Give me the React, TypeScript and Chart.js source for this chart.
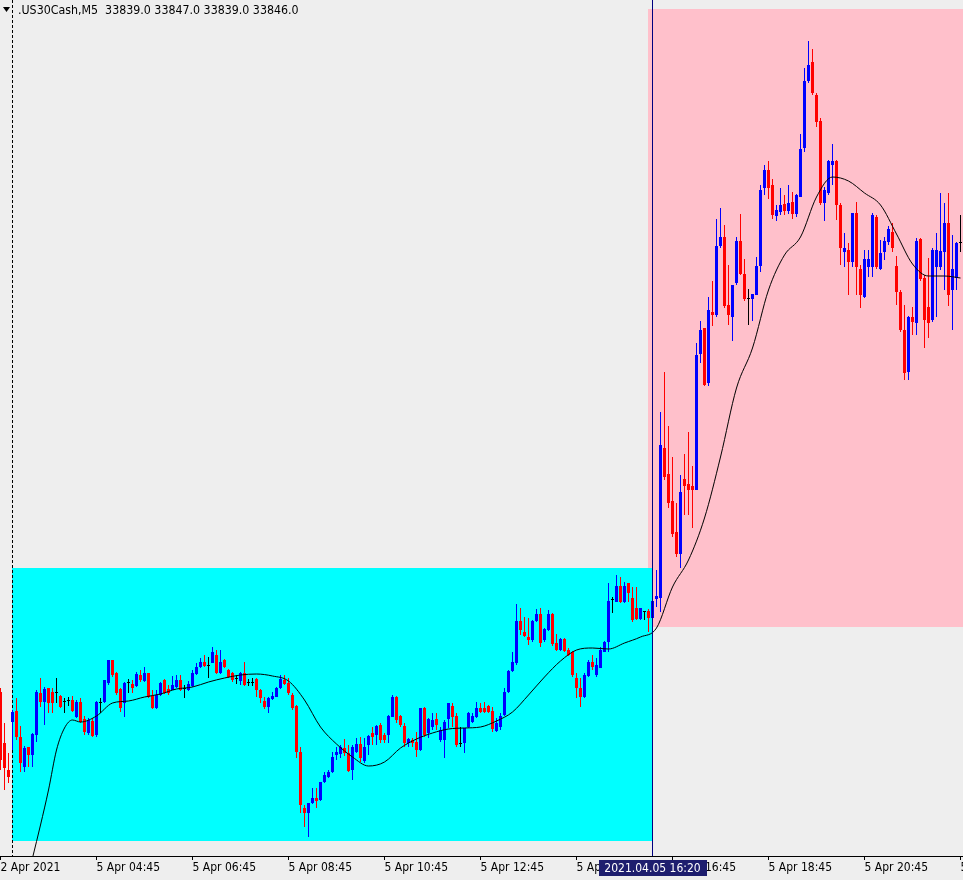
import React, { useEffect, useRef } from "react";
import { Chart, registerables } from "chart.js";

Chart.register(...registerables);

// ---------------- data ----------------
const symbolCaption = ".US30Cash,M5";
const lastBarOHLC = ["33839.0", "33847.0", "33839.0", "33846.0"];

const tickBarIndices = [0, 24, 48, 72, 96, 120, 144, 168, 192, 216, 240];
const tickLabels = [
  "2 Apr 2021", "5 Apr 04:45", "5 Apr 06:45", "5 Apr 08:45", "5 Apr 10:45",
  "5 Apr 12:45", "5 Apr 14:45", "5 Apr 16:45", "5 Apr 18:45", "5 Apr 20:45", "5 Apr 22:45",
];

const opens = [
  33308, 33257, 33230, 33278, 33289, 33263, 33233, 33253, 33245, 33265,
  33307, 33298, 33312, 33308, 33307, 33304, 33298, 33299, 33300, 33283,
  33298, 33281, 33267, 33279, 33265, 33297, 33298, 33317, 33340, 33327,
  33311, 33297, 33317, 33316, 33314, 33325, 33319, 33327, 33304, 33292,
  33305, 33320, 33311, 33310, 33313, 33320, 33311, 33310, 33314, 33326,
  33333, 33338, 33334, 33337, 33345, 33327, 33340, 33330, 33327, 33321,
  33319, 33327, 33317, 33317, 33321, 33310, 33299, 33293, 33301, 33303,
  33312, 33320, 33317, 33305, 33294, 33248, 33192, 33187, 33197, 33202,
  33200, 33218, 33223, 33228, 33245, 33246, 33252, 33247, 33230, 33248,
  33256, 33239, 33255, 33267, 33265, 33275, 33265, 33265, 33283, 33303,
  33284, 33274, 33257, 33260, 33258, 33250, 33292, 33267, 33273, 33281,
  33260, 33260, 33281, 33294, 33284, 33256, 33257, 33273, 33278, 33283,
  33292, 33292, 33294, 33289, 33269, 33273, 33285, 33308, 33329, 33337,
  33379, 33368, 33363, 33360, 33379, 33386, 33360, 33370, 33386, 33357,
  33350, 33361, 33350, 33348, 33322, 33312, 33303, 33324, 33338, 33325,
  33332, 33348, 33358, 33400, 33398, 33414, 33398, 33417, 33402, 33392,
  33381, 33388, 33389, 33382, 33401, 33402, 33552, 33526, 33499, 33468,
  33446, 33521, 33516, 33514, 33510, 33646, 33672, 33617, 33688, 33685,
  33754, 33763, 33695, 33683, 33717, 33759, 33726, 33701, 33701, 33705,
  33734, 33812, 33830, 33815, 33784, 33788, 33796, 33789, 33798, 33786,
  33803, 33852, 33919, 33938, 33905, 33879, 33797, 33807, 33835, 33839,
  33795, 33748, 33750, 33738, 33787, 33731, 33703, 33733, 33733, 33783,
  33731, 33748, 33758, 33768, 33734, 33708, 33670, 33628, 33683, 33677,
  33761, 33722, 33693, 33680, 33733, 33733, 33748, 33777, 33710, 33722,
  33757,
];

const highs = [
  33312, 33277, 33247, 33290, 33302, 33274, 33254, 33253, 33267, 33310,
  33322, 33313, 33312, 33312, 33322, 33305, 33302, 33303, 33304, 33300,
  33302, 33284, 33282, 33282, 33299, 33302, 33320, 33340, 33340, 33328,
  33312, 33318, 33321, 33320, 33328, 33330, 33333, 33327, 33310, 33310,
  33318, 33321, 33315, 33324, 33325, 33325, 33315, 33319, 33330, 33337,
  33342, 33345, 33343, 33353, 33350, 33350, 33341, 33331, 33328, 33325,
  33328, 33338, 33321, 33322, 33322, 33311, 33303, 33303, 33308, 33313,
  33325, 33325, 33322, 33307, 33295, 33253, 33195, 33197, 33212, 33212,
  33218, 33228, 33230, 33248, 33253, 33255, 33261, 33255, 33255, 33262,
  33263, 33262, 33265, 33273, 33275, 33277, 33267, 33285, 33305, 33304,
  33285, 33277, 33262, 33262, 33268, 33292, 33293, 33282, 33287, 33287,
  33273, 33280, 33297, 33297, 33287, 33273, 33272, 33288, 33287, 33298,
  33297, 33298, 33295, 33293, 33282, 33287, 33312, 33330, 33348, 33396,
  33392, 33383, 33382, 33380, 33391, 33392, 33372, 33390, 33387, 33366,
  33362, 33362, 33352, 33349, 33327, 33322, 33327, 33340, 33345, 33342,
  33353, 33359, 33417, 33403, 33425, 33423, 33418, 33417, 33413, 33413,
  33392, 33389, 33391, 33408, 33430, 33588, 33628, 33574, 33543, 33497,
  33525, 33546, 33568, 33534, 33657, 33679, 33672, 33703, 33719, 33781,
  33792, 33775, 33735, 33715, 33763, 33786, 33741, 33711, 33706, 33743,
  33815, 33835, 33839, 33821, 33795, 33812, 33805, 33815, 33808, 33806,
  33866, 33932, 33959, 33951, 33907, 33882, 33813, 33840, 33856, 33840,
  33797, 33767, 33757, 33787, 33798, 33735, 33750, 33750, 33787, 33785,
  33760, 33763, 33774, 33777, 33744, 33710, 33695, 33684, 33693, 33762,
  33762, 33725, 33742, 33752, 33767, 33807, 33797, 33807, 33765, 33758,
  33785,
];

const lows = [
  33230, 33210, 33217, 33250, 33260, 33228, 33228, 33233, 33233, 33258,
  33293, 33275, 33287, 33287, 33297, 33292, 33287, 33294, 33288, 33282,
  33277, 33265, 33265, 33263, 33263, 33287, 33297, 33315, 33323, 33305,
  33288, 33283, 33307, 33307, 33313, 33318, 33318, 33302, 33291, 33291,
  33304, 33306, 33305, 33310, 33312, 33309, 33302, 33309, 33313, 33325,
  33332, 33333, 33322, 33337, 33326, 33326, 33332, 33322, 33318, 33316,
  33315, 33314, 33314, 33314, 33303, 33297, 33291, 33287, 33300, 33303,
  33311, 33315, 33305, 33290, 33242, 33187, 33173, 33163, 33196, 33192,
  33199, 33217, 33222, 33227, 33240, 33242, 33244, 33228, 33220, 33247,
  33238, 33237, 33245, 33255, 33255, 33257, 33257, 33257, 33283, 33277,
  33273, 33253, 33253, 33253, 33243, 33249, 33263, 33262, 33270, 33270,
  33258, 33242, 33272, 33273, 33253, 33253, 33247, 33272, 33277, 33282,
  33287, 33287, 33287, 33268, 33268, 33270, 33284, 33307, 33328, 33335,
  33365, 33363, 33355, 33358, 33378, 33353, 33358, 33369, 33354, 33349,
  33349, 33348, 33344, 33323, 33302, 33293, 33302, 33323, 33330, 33323,
  33332, 33348, 33348, 33387, 33398, 33397, 33397, 33398, 33378, 33380,
  33380, 33380, 33368, 33370, 33393, 33388, 33520, 33492, 33463, 33443,
  33432, 33485, 33485, 33472, 33510, 33637, 33614, 33614, 33674, 33683,
  33752, 33692, 33675, 33659, 33715, 33725, 33699, 33675, 33679, 33705,
  33728, 33805, 33801, 33781, 33779, 33785, 33785, 33786, 33781, 33783,
  33803, 33848, 33917, 33905, 33873, 33795, 33779, 33805, 33815, 33780,
  33735, 33733, 33705, 33733, 33705, 33692, 33702, 33723, 33723, 33731,
  33730, 33740, 33755, 33748, 33695, 33668, 33620, 33620, 33665, 33665,
  33719, 33652, 33662, 33678, 33683, 33730, 33710, 33694, 33670, 33710,
  33748,
];

const closes = [
  33240, 33232, 33223, 33288, 33263, 33237, 33252, 33245, 33266, 33308,
  33298, 33311, 33297, 33297, 33307, 33293, 33298, 33299, 33289, 33298,
  33278, 33268, 33280, 33264, 33298, 33297, 33320, 33340, 33325, 33307,
  33292, 33317, 33317, 33312, 33326, 33320, 33327, 33303, 33292, 33305,
  33317, 33307, 33307, 33315, 33320, 33310, 33311, 33316, 33327, 33333,
  33338, 33334, 33334, 33348, 33327, 33338, 33333, 33323, 33320, 33321,
  33327, 33315, 33317, 33317, 33310, 33302, 33293, 33302, 33304, 33312,
  33321, 33316, 33307, 33292, 33248, 33195, 33187, 33197, 33202, 33199,
  33218, 33225, 33228, 33243, 33248, 33253, 33247, 33229, 33253, 33256,
  33242, 33253, 33264, 33263, 33274, 33260, 33260, 33284, 33303, 33280,
  33275, 33257, 33261, 33257, 33250, 33292, 33265, 33281, 33280, 33275,
  33270, 33278, 33297, 33283, 33255, 33256, 33272, 33287, 33284, 33292,
  33288, 33288, 33288, 33271, 33277, 33284, 33308, 33329, 33338, 33379,
  33370, 33364, 33360, 33379, 33386, 33357, 33371, 33386, 33356, 33350,
  33361, 33349, 33345, 33325, 33312, 33303, 33325, 33338, 33333, 33335,
  33350, 33358, 33399, 33400, 33414, 33398, 33414, 33407, 33380, 33381,
  33392, 33388, 33382, 33399, 33404, 33555, 33523, 33497, 33466, 33446,
  33508, 33514, 33510, 33510, 33645, 33670, 33615, 33690, 33685, 33754,
  33763, 33694, 33685, 33715, 33759, 33726, 33701, 33701, 33706, 33734,
  33810, 33830, 33812, 33785, 33790, 33795, 33789, 33797, 33786, 33805,
  33851, 33919, 33935, 33907, 33878, 33797, 33810, 33839, 33839, 33795,
  33752, 33752, 33738, 33787, 33733, 33705, 33741, 33741, 33785, 33733,
  33747, 33759, 33771, 33752, 33708, 33670, 33627, 33683, 33678, 33759,
  33721, 33680, 33677, 33750, 33750, 33749, 33777, 33705, 33731, 33757,
  33757,
];

const maBarIndices = [
  4, 8, 10, 12, 14, 16, 18, 20, 24, 28, 32, 36, 40, 44, 48, 52, 56, 60, 64, 68,
  72, 76, 80, 84, 88, 92, 96, 100, 104, 108, 112, 116, 120, 124, 128, 132, 136,
  140, 144, 148, 152, 156, 160, 164, 168, 172, 176, 180, 184, 188, 192, 196, 200,
  204, 208, 212, 216, 220, 224, 228, 232, 236, 240,
];
const maValues = [
  33075, 33142, 33175, 33210, 33250, 33272, 33280, 33278, 33284, 33297, 33299,
  33303, 33306, 33311, 33313, 33318, 33322, 33325, 33326, 33324, 33319, 33300,
  33273, 33256, 33243, 33234, 33238, 33252, 33261, 33267, 33271, 33272, 33273,
  33279, 33288, 33305, 33323, 33339, 33350, 33352, 33351, 33357, 33363, 33372,
  33413, 33440, 33482, 33543, 33612, 33652, 33710, 33745, 33763, 33803, 33823,
  33819, 33807, 33795, 33766, 33736, 33724, 33724, 33722,
];

const daySeparatorBar = 3;
const asiaBoxBars = [3, 163];
const asiaBoxPrices = [33159, 33432];
const usBoxBars = [162, 270];
const usBoxPrices = [33373, 33991];
const cursorBar = 163;
const cursorLabel = "2021.04.05 16:20";

// ---------------- styling ----------------
const FONT = '"DejaVu Sans Condensed", "DejaVu Sans", sans-serif';
const UP = "#0000ff";
const DOWN = "#ff0000";
const DOJI = "#000000";

const barIndices = opens.map((_, i) => i);
const barColors = opens.map((o, i) =>
  closes[i] > o ? UP : closes[i] < o ? DOWN : DOJI
);

const mt4Plugin = {
  id: "mt4Decor",
  beforeDraw(chart: any) {
    const { ctx, width, height } = chart;
    ctx.save();
    ctx.fillStyle = "#eeeeee";
    ctx.fillRect(0, 0, width, height);
    ctx.restore();
  },
  beforeDatasetsDraw(chart: any) {
    const { ctx, chartArea, scales } = chart;
    const xs = scales.x;
    const ys = scales.y;
    ctx.save();
    ctx.beginPath();
    ctx.rect(chartArea.left, chartArea.top, chartArea.right - chartArea.left, chartArea.bottom - chartArea.top);
    ctx.clip();
    const box = (bars: number[], prices: number[], color: string) => {
      const x1 = Math.floor(xs.getPixelForValue(bars[0]));
      const x2 = Math.floor(xs.getPixelForValue(bars[1]));
      const y1 = Math.round(ys.getPixelForValue(prices[1]));
      const y2 = Math.round(ys.getPixelForValue(prices[0]));
      ctx.fillStyle = color;
      ctx.fillRect(x1, y1, x2 - x1, y2 - y1);
    };
    box(usBoxBars, usBoxPrices, "#ffc0cb");
    box(asiaBoxBars, asiaBoxPrices, "#00ffff");
    // day separator
    const sx = Math.floor(xs.getPixelForValue(daySeparatorBar)) + 0.5;
    ctx.strokeStyle = "#000000";
    ctx.lineWidth = 1;
    ctx.setLineDash([3, 2]);
    ctx.beginPath();
    ctx.moveTo(sx, chartArea.top);
    ctx.lineTo(sx, chartArea.bottom);
    ctx.stroke();
    ctx.restore();
  },
  afterDraw(chart: any) {
    const { ctx, chartArea, scales } = chart;
    const xs = scales.x;
    ctx.save();
    // vertical cursor line
    const cx = Math.floor(xs.getPixelForValue(cursorBar)) + 0.5;
    ctx.strokeStyle = "#000080";
    ctx.lineWidth = 1;
    ctx.beginPath();
    ctx.moveTo(cx, chartArea.top);
    ctx.lineTo(cx, chartArea.bottom);
    ctx.stroke();
    // cursor label on time axis
    ctx.font = `12px ${FONT}`;
    const tw = ctx.measureText(cursorLabel).width;
    const bw = Math.round(tw + 12);
    const bx = Math.round(cx - bw / 2);
    const by = chartArea.bottom + 4;
    ctx.fillStyle = "#1e1e6e";
    ctx.fillRect(bx, by, bw, 16);
    ctx.fillStyle = "#ffffff";
    ctx.textBaseline = "middle";
    ctx.textAlign = "center";
    ctx.fillText(cursorLabel, cx, by + 8.5);
    // legend (symbol + OHLC)
    ctx.fillStyle = "#000000";
    ctx.beginPath();
    ctx.moveTo(3, 7);
    ctx.lineTo(10, 7);
    ctx.lineTo(6.5, 12);
    ctx.closePath();
    ctx.fill();
    ctx.font = `12.3px ${FONT}`;
    ctx.textAlign = "left";
    ctx.textBaseline = "alphabetic";
    ctx.fillText(`${symbolCaption}  ${lastBarOHLC.join(" ")}`, 18, 14);
    ctx.restore();
  },
};

export default function App() {
  const ref = useRef<HTMLCanvasElement>(null);
  useEffect(() => {
    document.body.style.margin = "0";
    const canvas = ref.current;
    if (!canvas) return;
    const chart = new Chart(canvas, {
      type: "bar",
      data: {
        datasets: [
          {
            type: "line",
            label: "MA",
            data: maBarIndices.map((b, k) => ({ x: b, y: maValues[k] })),
            borderColor: "#000000",
            borderWidth: 1,
            pointRadius: 0,
            cubicInterpolationMode: "monotone",
            fill: false,
          } as any,
          {
            type: "bar",
            label: "body",
            data: barIndices.map((i) => ({ x: i, y: [opens[i], closes[i]] })),
            backgroundColor: barColors,
            barThickness: 3,
            minBarLength: 1,
            grouped: false,
            borderWidth: 0,
            inflateAmount: 0,
          } as any,
          {
            type: "bar",
            label: "wick",
            data: barIndices.map((i) => ({ x: i, y: [lows[i], highs[i]] })),
            backgroundColor: barColors,
            barThickness: 1,
            grouped: false,
            borderWidth: 0,
            inflateAmount: 0,
          } as any,
        ],
      },
      options: {
        responsive: false,
        devicePixelRatio: 1,
        animation: false,
        events: [],
        layout: { padding: 0 },
        plugins: { legend: { display: false }, tooltip: { enabled: false }, title: { display: false } },
        scales: {
          x: {
            type: "linear",
            min: -0.125,
            max: 240.625,
            offset: false,
            afterBuildTicks: (scale: any) => {
              scale.ticks = tickBarIndices.map((v) => ({ value: v }));
            },
            afterFit: (scale: any) => {
              scale.height = 24;
              scale.paddingLeft = 0;
              scale.paddingRight = 0;
            },
            ticks: {
              autoSkip: false,
              maxRotation: 0,
              minRotation: 0,
              align: "start",
              padding: 1,
              color: "#000000",
              font: { family: FONT, size: 12 },
              callback: (v: any) => {
                const k = tickBarIndices.indexOf(Number(v));
                return k >= 0 ? tickLabels[k] : "";
              },
            },
            grid: { display: true, drawOnChartArea: false, drawTicks: true, tickLength: 4, color: "#000000", offset: false },
            border: { display: true, color: "#000000", width: 1 },
          },
          y: {
            type: "linear",
            display: false,
            min: 33144,
            max: 34000,
            beginAtZero: false,
          },
        },
      } as any,
      plugins: [mt4Plugin],
    });
    return () => chart.destroy();
  }, []);
  return (
    <canvas
      ref={ref}
      width={963}
      height={880}
      style={{ display: "block", width: 963, height: 880 }}
    />
  );
}
